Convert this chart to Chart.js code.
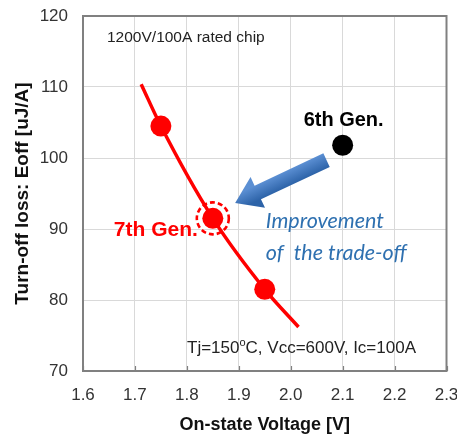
<!DOCTYPE html>
<html>
<head>
<meta charset="utf-8">
<script src="https://cdn.jsdelivr.net/npm/chart.js@4/dist/chart.umd.min.js"></script>
<style>
  html, body { margin: 0; padding: 0; background: #ffffff; }
  #wrap { width: 457px; height: 439px; }
</style>
</head>
<body>
<div id="wrap"><canvas id="c" width="457" height="439"></canvas></div>
<script>
// Trade-off curve of the 7th generation chip (on-state voltage vs. turn-off loss)
const curveVce  = [1.712, 1.75, 1.85, 1.95, 2.015];
const curveEoff = [110.4, 104.5, 91.5, 81.5, 76.2];

// Measured 7th generation points
const gen7Vce  = [1.75, 1.85, 1.95];
const gen7Eoff = [104.5, 91.5, 81.5];

// 6th generation reference point
const gen6Vce  = [2.1];
const gen6Eoff = [101.8];

// Axis ranges
const xRange = [1.6, 2.3, 0.1];
const yRange = [70, 120, 10];

// Arrow from the 6th gen point toward the 7th gen curve (value coordinates)
const arrowFrom = [2.069, 99.7];
const arrowTo   = [1.893, 93.65];

const toPts = (xs, ys) => xs.map((v, i) => ({ x: v, y: ys[i] }));

const RED = '#ff0000';
const BASE_FONT = '"Liberation Sans", Arial, Helvetica, sans-serif';

const overlay = {
  id: 'overlay',
  beforeDatasetsDraw(chart) {
    const { ctx, chartArea: a, scales: { x } } = chart;
    ctx.save();
    // plot frame
    ctx.strokeStyle = '#808080';
    ctx.lineWidth = 2;
    ctx.strokeRect(a.left, a.top, a.right - a.left, a.bottom - a.top);
    // short inward tick marks along the bottom edge
    ctx.lineWidth = 1.2;
    x.ticks.forEach(t => {
      const px = Math.round(x.getPixelForValue(t.value)) + 0.5;
      ctx.beginPath();
      ctx.moveTo(px, a.bottom);
      ctx.lineTo(px, a.bottom - 5);
      ctx.stroke();
    });
    ctx.restore();
  },
  afterDatasetsDraw(chart) {
    const { ctx, chartArea: a, scales: { x, y } } = chart;
    ctx.save();

    // dashed ring around the middle 7th gen point
    const p7x = x.getPixelForValue(gen7Vce[1]);
    const p7y = y.getPixelForValue(gen7Eoff[1]);
    ctx.strokeStyle = RED;
    ctx.lineWidth = 2.6;
    ctx.setLineDash([5, 3]);
    ctx.beginPath();
    ctx.arc(p7x, p7y, 16, 0, Math.PI * 2);
    ctx.stroke();
    ctx.setLineDash([]);

    // block arrow
    const tx = x.getPixelForValue(arrowFrom[0]), ty = y.getPixelForValue(arrowFrom[1]);
    const hx = x.getPixelForValue(arrowTo[0]),   hy = y.getPixelForValue(arrowTo[1]);
    const dx = hx - tx, dy = hy - ty, L = Math.hypot(dx, dy);
    const ux = dx / L, uy = dy / L, nx = -uy, ny = ux;
    const hw = 7.5, headL = 25, headW = 17;
    const bx = hx - ux * headL, by = hy - uy * headL;
    const grad = ctx.createLinearGradient(tx + nx * hw, ty + ny * hw, tx - nx * hw, ty - ny * hw);
    grad.addColorStop(0, '#5b8fd3');
    grad.addColorStop(1, '#2d63a8');
    ctx.fillStyle = grad;
    ctx.beginPath();
    ctx.moveTo(tx + nx * hw, ty + ny * hw);
    ctx.lineTo(bx + nx * hw, by + ny * hw);
    ctx.lineTo(bx + nx * headW, by + ny * headW);
    ctx.lineTo(hx, hy);
    ctx.lineTo(bx - nx * headW, by - ny * headW);
    ctx.lineTo(bx - nx * hw, by - ny * hw);
    ctx.lineTo(tx - nx * hw, ty - ny * hw);
    ctx.closePath();
    ctx.fill();

    // chip rating note
    ctx.fillStyle = '#222222';
    ctx.textBaseline = 'middle';
    ctx.textAlign = 'left';
    ctx.font = '15.5px ' + BASE_FONT;
    ctx.fillText('1200V/100A rated chip', a.left + 24, a.top + 22);

    // test conditions, with superscript degree sign
    const cy = a.bottom - 23;
    let cx = a.left + 104;
    const part1 = 'Tj=150', part2 = 'C, Vcc=600V, Ic=100A';
    ctx.font = '17px ' + BASE_FONT;
    ctx.fillText(part1, cx, cy);
    cx += ctx.measureText(part1).width;
    ctx.font = '11px ' + BASE_FONT;
    ctx.fillText('o', cx, cy - 5);
    cx += ctx.measureText('o').width;
    ctx.font = '17px ' + BASE_FONT;
    ctx.fillText(part2, cx, cy);

    // generation labels
    const p6x = x.getPixelForValue(gen6Vce[0]);
    const p6y = y.getPixelForValue(gen6Eoff[0]);
    ctx.font = 'bold 20px ' + BASE_FONT;
    ctx.textAlign = 'center';
    ctx.fillStyle = '#000000';
    ctx.fillText('6th Gen.', p6x + 1, p6y - 25);

    ctx.textAlign = 'right';
    ctx.fillStyle = RED;
    ctx.font = 'bold 21px ' + BASE_FONT;
    ctx.fillText('7th Gen.', p7x - 15, p7y + 12);

    // improvement note
    ctx.textAlign = 'left';
    ctx.fillStyle = '#2e70b0';
    ctx.font = 'italic 21.5px Lato, "Liberation Sans", sans-serif';
    ctx.fillText('Improvement', p7x + 53, p7y + 3);
    ctx.fillText('of  the trade-off', p7x + 53, p7y + 35);

    ctx.restore();
  }
};

new Chart(document.getElementById('c'), {
  type: 'scatter',
  data: {
    datasets: [
      {
        data: toPts(curveVce, curveEoff),
        showLine: true,
        cubicInterpolationMode: 'monotone',
        borderColor: RED,
        borderWidth: 3.5,
        pointRadius: 0,
        pointHoverRadius: 0
      },
      {
        data: toPts(gen7Vce, gen7Eoff),
        backgroundColor: RED,
        borderColor: RED,
        borderWidth: 0,
        pointRadius: 10.5
      },
      {
        data: toPts(gen6Vce, gen6Eoff),
        backgroundColor: '#000000',
        borderColor: '#000000',
        borderWidth: 0,
        pointRadius: 10.5
      }
    ]
  },
  options: {
    responsive: false,
    animation: false,
    devicePixelRatio: 1,
    layout: { padding: { top: 16, right: 9, left: 0, bottom: 0 } },
    plugins: { legend: { display: false }, tooltip: { enabled: false } },
    scales: {
      x: {
        type: 'linear',
        min: xRange[0], max: xRange[1],
        ticks: {
          stepSize: xRange[2],
          padding: 14,
          color: '#333333',
          font: { family: BASE_FONT, size: 17 },
          callback: v => v.toFixed(1)
        },
        grid: { color: '#d9d9d9', lineWidth: 1, drawTicks: false },
        border: { display: false },
        title: {
          display: true,
          text: 'On-state Voltage [V]',
          color: '#111111',
          font: { family: BASE_FONT, size: 18, weight: 'bold' },
          padding: { top: 0, bottom: 3 }
        },
        afterFit(s) { s.height = 68; s.paddingLeft = 0; s.paddingRight = 0; }
      },
      y: {
        type: 'linear',
        min: yRange[0], max: yRange[1],
        ticks: {
          stepSize: yRange[2],
          padding: 15,
          color: '#333333',
          font: { family: BASE_FONT, size: 17 }
        },
        grid: { color: '#d9d9d9', lineWidth: 1, drawTicks: false },
        border: { display: false },
        title: {
          display: true,
          text: 'Turn-off loss: Eoff [uJ/A]',
          color: '#111111',
          font: { family: BASE_FONT, size: 19, weight: 'bold' },
          padding: { top: 11, bottom: 0 }
        },
        afterFit(s) { s.width = 83; s.paddingTop = 0; s.paddingBottom = 0; }
      }
    }
  },
  plugins: [overlay]
});
</script>
</body>
</html>
